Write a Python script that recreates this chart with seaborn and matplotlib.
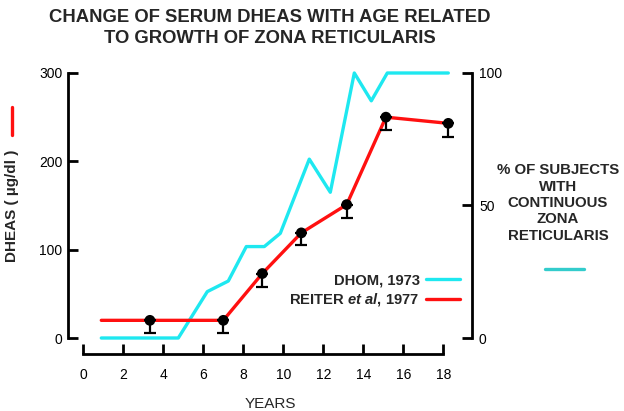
"""Serum DHEAS vs age, with zona reticularis growth"""
import matplotlib
matplotlib.use("Agg")
import matplotlib.pyplot as plt
from matplotlib.lines import Line2D
import pandas as pd
import seaborn as sns

# DHOM, 1973 : % of subjects with continuous zona reticularis
dhom_age = [0.9, 4.75, 6.2, 7.25, 8.15, 9.05, 9.85, 11.3, 12.35, 13.55, 14.4, 15.2, 18.25]
dhom_pct = [0, 0, 17.5, 21.5, 34.5, 34.5, 39.5, 67.5, 55, 100, 89.5, 100, 100]

# REITER et al, 1977 : serum DHEAS (µg/dl)
reiter_line_age = [0.9, 3.33, 7.0, 8.95, 10.9, 13.17, 15.13, 18.25]
reiter_line_val = [20, 20, 20, 73, 119, 151, 250, 243]
reiter_dot_age = [3.33, 7.0, 8.95, 10.9, 13.17, 15.13, 18.25]
reiter_dot_val = [20, 20, 73, 119, 151, 250, 243]
reiter_err_low = [14, 14, 15, 14, 15, 15, 15]

x_ticks = [0, 2, 4, 6, 8, 10, 12, 14, 16, 18]
left_ticks = [0, 100, 200, 300]
right_ticks = [0, 50, 100]

CYAN = "#1ee8f0"
RED = "#ff1010"

sns.set_style("ticks")
plt.rcParams["font.family"] = ["Liberation Sans", "DejaVu Sans"]
plt.rcParams["mathtext.fontset"] = "custom"
plt.rcParams["mathtext.it"] = "Liberation Sans:italic:bold"
plt.rcParams["mathtext.rm"] = "Liberation Sans:bold"

fig = plt.figure(figsize=(6.24, 4.11), dpi=100)
ax = fig.add_axes([68 / 624, (411 - 338) / 411, 404 / 624, 265 / 411])
ax2 = ax.twinx()

dhom = pd.DataFrame({"age": dhom_age, "pct": dhom_pct})
reiter_line = pd.DataFrame({"age": reiter_line_age, "val": reiter_line_val})
reiter_dots = pd.DataFrame({"age": reiter_dot_age, "val": reiter_dot_val})

sns.lineplot(data=dhom, x="age", y="pct", ax=ax2, color=CYAN, lw=2.4,
             sort=False, estimator=None, clip_on=False)
sns.lineplot(data=reiter_line, x="age", y="val", ax=ax, color=RED, lw=2.4,
             sort=False, estimator=None, clip_on=False)
ax.errorbar(reiter_dot_age, reiter_dot_val,
            yerr=[reiter_err_low, [0] * len(reiter_err_low)],
            fmt="none", ecolor="black", elinewidth=1.6, capsize=4, capthick=1.6,
            clip_on=False)
sns.scatterplot(data=reiter_dots, x="age", y="val", ax=ax, color="black",
                s=60, edgecolor="none", zorder=5, clip_on=False)

# main axes on top of twin so red line and dots are over cyan
ax.set_zorder(ax2.get_zorder() + 1)
ax.patch.set_visible(False)

xmin = (68 - 83.3) / 20
xmax = (472 - 83.3) / 20
ax.set_xlim(xmin, xmax)
ax.set_ylim(0, 300)
ax2.set_ylim(0, 100)

for a in (ax, ax2):
    for s in a.spines.values():
        s.set_linewidth(2)
        s.set_color("black")
    a.spines["top"].set_visible(False)

ax.spines["right"].set_visible(False)
ax.spines["left"].set_bounds(0, 300)
ax.spines["bottom"].set_position(("outward", 11.5))
ax.spines["bottom"].set_bounds(0, 18)
ax2.spines["left"].set_visible(False)
ax2.spines["bottom"].set_visible(False)
ax2.spines["right"].set_bounds(0, 100)

ax.set_xticks(x_ticks)
ax.set_xticklabels([str(t) for t in x_ticks])
ax.set_yticks(left_ticks)
ax.set_yticklabels([str(t) for t in left_ticks])
ax2.set_yticks(right_ticks)
ax2.set_yticklabels([str(t) for t in right_ticks])

ax.tick_params(axis="y", direction="in", length=7, width=2, pad=4,
               labelsize=10, colors="black")
ax.tick_params(axis="x", direction="in", length=7, width=2, pad=10,
               labelsize=10, colors="black")
ax2.tick_params(axis="y", direction="in", length=7, width=2, pad=5,
                labelsize=10, colors="black")

ax.set_xlabel("YEARS", fontsize=11, labelpad=11)
ax.set_ylabel("")
ax2.set_ylabel("")

# legend inside the plot (text first, line after)
handles = [Line2D([], [], color=CYAN, lw=2.4), Line2D([], [], color=RED, lw=2.4)]
labels = ["DHOM, 1973", r"REITER $\mathit{et\ al}$, 1977"]
ax.legend(handles, labels, markerfirst=False, frameon=False,
          loc="upper right", bbox_to_anchor=(460 / 624, (411 - 273) / 411),
          bbox_transform=fig.transFigure, borderpad=0, borderaxespad=0,
          handletextpad=0.45, handlelength=2.3, labelspacing=0.3,
          prop={"weight": "bold", "size": 10.6})

fig.text(270 / 624, (411 - 28) / 411,
         "CHANGE OF SERUM DHEAS WITH AGE RELATED\nTO GROWTH OF ZONA RETICULARIS",
         ha="center", va="center", fontsize=13.3, fontweight="bold", linespacing=1.3)

fig.text(12 / 624, (411 - 206) / 411, "DHEAS ( µg/dl )", rotation=90,
         ha="center", va="center", fontsize=11, fontweight="bold")
fig.add_artist(Line2D([12 / 624, 12 / 624], [(411 - 107) / 411, (411 - 135) / 411],
                      color=RED, lw=2.4, transform=fig.transFigure))

fig.text(558 / 624, (411 - 203) / 411,
         "% OF SUBJECTS\nWITH\nCONTINUOUS\nZONA\nRETICULARIS",
         ha="center", va="center", fontsize=10.8, fontweight="bold", linespacing=1.22)
fig.add_artist(Line2D([545 / 624, 584 / 624], [(411 - 269) / 411, (411 - 269) / 411],
                      color="#33cccc", lw=2.4, transform=fig.transFigure))

fig.savefig("out.png", dpi=100)
plt.close(fig)
